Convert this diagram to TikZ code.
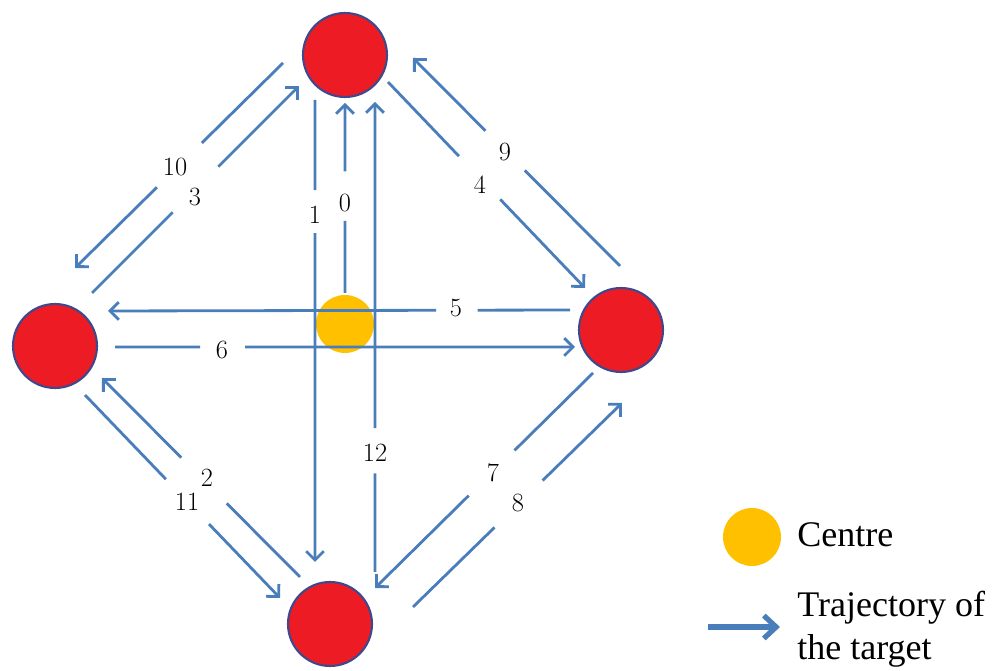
\documentclass[tikz,border=0pt]{standalone}
\usepackage{fontspec}
\newfontfamily\legendfont{Liberation Serif}
\usetikzlibrary{arrows.meta,calc}
\definecolor{trajblue}{RGB}{74,126,187}
\definecolor{nodered}{RGB}{237,28,36}
\definecolor{rimblue}{RGB}{62,72,140}
\definecolor{centreyellow}{RGB}{255,192,0}
\tikzset{
  station/.style={circle,fill=nodered,draw=rimblue,line width=1.2pt,inner sep=0pt,minimum size=1.68cm},
  centrespot/.style={circle,fill=centreyellow,inner sep=0pt,minimum size=1.16cm},
  trajseg/.style={draw=trajblue,line width=1.6pt},
  trajarrow/.style={trajseg,-{Straight Barb[length=5pt,width=10pt,line width=1.6pt]}},
  steplabel/.style={inner sep=0pt,font=\fontsize{15}{17}\selectfont},
  legendtext/.style={inner sep=0pt,anchor=base west,font=\legendfont\fontsize{20.5}{24}\selectfont},
}
\newcommand\trajpath[4]{%
  \draw[trajseg] (#1) -- ($(#1)!#3!(#2)$);
  \draw[trajarrow] ($(#1)!#4!(#2)$) -- (#2);}
\begin{document}
\begin{tikzpicture}[x=0.02cm,y=-0.02cm]
\useasboundingbox (0,0) rectangle (998,671);
% stations
\node[station] (T) at (345,55) {};
\node[station] (L) at (55,346) {};
\node[station] (R) at (621,330) {};
\node[station] (B) at (330,624) {};
\node[centrespot] (C) at (345,324) {};
% trajectory end points
\coordinate (s0) at (345,293);  \coordinate (e0) at (345,103);
\coordinate (s1) at (315,100);  \coordinate (e1) at (315,562);
\coordinate (s12) at (375,572); \coordinate (e12) at (375,102);
\coordinate (s5) at (570,310);  \coordinate (e5) at (108,311);
\coordinate (s6) at (115,347);  \coordinate (e6) at (575,347);
\coordinate (s10) at (283,63);  \coordinate (e10) at (75,268);
\coordinate (s3) at (92,293);   \coordinate (e3) at (299,86);
\coordinate (s9) at (620,266);  \coordinate (e9) at (413,58);
\coordinate (s4) at (388,82);   \coordinate (e4) at (585,288);
\coordinate (s2) at (300,577);  \coordinate (e2) at (102,378);
\coordinate (s11) at (85,395);  \coordinate (e11) at (280,598);
\coordinate (s7) at (593,373);  \coordinate (e7) at (375,588);
\coordinate (s8) at (413,607);  \coordinate (e8) at (622,403);
% trajectories
\trajpath{s0}{e0}{0.38}{0.64}
\trajpath{s1}{e1}{0.195}{0.288}
\trajpath{s12}{e12}{0.21}{0.306}
\trajpath{s5}{e5}{0.2}{0.29}
\trajpath{s6}{e6}{0.185}{0.283}
\trajpath{s10}{e10}{0.39}{0.606}
\trajpath{s3}{e3}{0.39}{0.61}
\trajpath{s9}{e9}{0.46}{0.65}
\trajpath{s4}{e4}{0.36}{0.57}
\trajpath{s2}{e2}{0.37}{0.6}
\trajpath{s11}{e11}{0.415}{0.636}
\trajpath{s7}{e7}{0.36}{0.57}
\trajpath{s8}{e8}{0.39}{0.62}
% labels
\node[steplabel] (l0) at (345,203) {0};
\node[steplabel] (l1) at (315,215) {1};
\node[steplabel] (l12) at (375,453) {12};
\node[steplabel] (l5) at (456,308) {5};
\node[steplabel] (l6) at (222,350) {6};
\node[steplabel] (l10) at (175,167) {10};
\node[steplabel] (l3) at (195,197) {3};
\node[steplabel] (l9) at (505,152) {9};
\node[steplabel] (l4) at (480,185) {4};
\node[steplabel] (l2) at (207,478) {2};
\node[steplabel] (l11) at (187,502) {11};
\node[steplabel] (l7) at (493,473) {7};
\node[steplabel] (l8) at (518,503) {8};
% legend
\node[centrespot] (legC) at (752,537) {};
\node[legendtext] (legCtext) at (797,547) {Centre};
\coordinate (legA) at (708,627);
\coordinate (legB) at (780,627);
\draw[draw=trajblue,line width=3pt,-{Straight Barb[length=7pt,width=13pt,line width=3pt]}] (legA) -- (legB);
\node[legendtext] (legT1) at (797,617) {Trajectory of};
\node[legendtext] (legT2) at (797,660) {the target};
\end{tikzpicture}
\end{document}
